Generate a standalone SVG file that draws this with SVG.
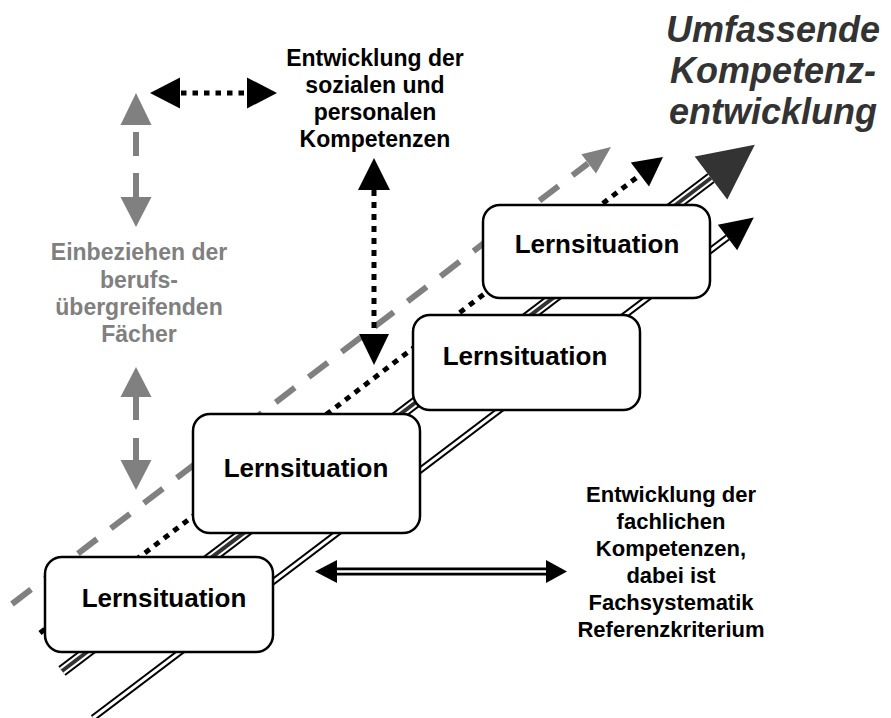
<svg xmlns="http://www.w3.org/2000/svg" width="891" height="718" viewBox="0 0 891 718">
<style>
.box{fill:#fff;stroke:#000;stroke-width:2.5}
.lbl{font-family:"Liberation Sans",Arial,sans-serif;font-weight:bold;text-anchor:middle}
.txt{font-size:22px;fill:#000}
.txt2{font-size:23px;fill:#000}
.gtxt{font-size:23px;fill:#808080}
.ttl{font-size:36px;font-style:italic;fill:#333}
.ls{font-size:26px;fill:#000}
.gdash{stroke:#808080;stroke-width:6;stroke-dasharray:24 17.5;fill:none}
.gseg{stroke:#808080;stroke-width:6}
.dots{stroke:#000;stroke-width:5;stroke-dasharray:6 6;fill:none}
.hdots{stroke:#000;stroke-width:5;stroke-dasharray:5.5 6;fill:none}
.triOut{stroke:#000;stroke-width:12}
.triGap{stroke:#fff;stroke-width:8}
.triCore{stroke:#333;stroke-width:4}
.dblOut{stroke:#000;stroke-width:7}
.dblIn{stroke:#fff;stroke-width:3}
.hdblOut{stroke:#000;stroke-width:8}
.hdblIn{stroke:#fff;stroke-width:2.5}
.gh{fill:#808080}
.bh{fill:#000}
.dh{fill:#333}
</style>
<g id="connectors">
  <line class="gdash" x1="12" y1="604" x2="588" y2="163.5"/>
  <polygon class="gh" points="611,147 596,173.5 581.4,154.3"/>
  <line class="dots" x1="40" y1="633" x2="640" y2="175"/>
  <polygon class="bh" points="663,157 649,186.4 630.8,162.6"/>
  <g>
    <line class="triOut" x1="62" y1="671" x2="711" y2="178"/>
    <line class="triGap" x1="62" y1="671" x2="711" y2="178"/>
    <line class="triCore" x1="62" y1="671" x2="711" y2="178"/>
  </g>
  <polygon class="dh" points="754.8,144.7 727.3,199.5 694.7,156.5"/>
  <g>
    <line class="dblOut" x1="93" y1="718" x2="727.5" y2="237.5"/>
    <line class="dblIn" x1="93" y1="718" x2="727.5" y2="237.5"/>
  </g>
  <polygon class="bh" points="753.8,217.6 737.2,250.3 717.8,224.7"/>
</g>
<g id="box1"><rect class="box" x="45" y="557" width="228" height="95" rx="17"/><text class="lbl ls" x="164" y="607">Lernsituation</text></g>
<g id="box2"><rect class="box" x="193" y="414" width="227" height="119" rx="17"/><text class="lbl ls" x="306" y="477">Lernsituation</text></g>
<g id="box3"><rect class="box" x="413" y="315" width="227" height="95" rx="17"/><text class="lbl ls" x="525" y="365">Lernsituation</text></g>
<g id="box4"><rect class="box" x="483" y="205" width="227" height="93" rx="17"/><text class="lbl ls" x="597" y="253">Lernsituation</text></g>
<g id="arrows">
  <line class="hdots" x1="181" y1="93" x2="247" y2="93"/>
  <polygon class="bh" points="150,93 180,77.5 180,108.5"/>
  <polygon class="bh" points="277,93 247,77.5 247,108.5"/>
  <line class="dots" x1="374" y1="190" x2="374" y2="334"/>
  <polygon class="bh" points="374,158 358,190 390,190"/>
  <polygon class="bh" points="374,365 359,334 389,334"/>
  <polygon class="gh" points="136,93 120.5,125 151.5,125"/>
  <line class="gseg" x1="136" y1="132" x2="136" y2="156"/>
  <line class="gseg" x1="136" y1="173" x2="136" y2="197"/>
  <polygon class="gh" points="136,227 120.5,197 151.5,197"/>
  <polygon class="gh" points="136,367 120.5,397 151.5,397"/>
  <line class="gseg" x1="136" y1="396" x2="136" y2="420"/>
  <line class="gseg" x1="136" y1="438" x2="136" y2="461"/>
  <polygon class="gh" points="136,490 120.5,460 151.5,460"/>
  <line class="hdblOut" x1="336" y1="571.5" x2="547" y2="571.5"/>
  <line class="hdblIn" x1="336" y1="571.5" x2="547" y2="571.5"/>
  <polygon class="bh" points="315,571.5 337,560 337,583"/>
  <polygon class="bh" points="567,571.5 546,560 546,583"/>
</g>
<g id="title">
  <text class="lbl ttl" x="773" y="42">Umfassende</text>
  <text class="lbl ttl" x="773" y="83">Kompetenz-</text>
  <text class="lbl ttl" x="773" y="124">entwicklung</text>
</g>
<g id="label-social">
  <text class="lbl txt2" x="375" y="66">Entwicklung der</text>
  <text class="lbl txt2" x="375" y="93">sozialen und</text>
  <text class="lbl txt2" x="375" y="120">personalen</text>
  <text class="lbl txt2" x="375" y="147">Kompetenzen</text>
</g>
<g id="label-cross">
  <text class="lbl gtxt" x="139" y="260">Einbeziehen der</text>
  <text class="lbl gtxt" x="139" y="288">berufs-</text>
  <text class="lbl gtxt" x="139" y="315">übergreifenden</text>
  <text class="lbl gtxt" x="139" y="342">Fächer</text>
</g>
<g id="label-tech">
  <text class="lbl txt" x="671" y="502">Entwicklung der</text>
  <text class="lbl txt" x="671" y="529">fachlichen</text>
  <text class="lbl txt" x="671" y="556">Kompetenzen,</text>
  <text class="lbl txt" x="671" y="583">dabei ist</text>
  <text class="lbl txt" x="671" y="610">Fachsystematik</text>
  <text class="lbl txt" x="671" y="637">Referenzkriterium</text>
</g>
</svg>
